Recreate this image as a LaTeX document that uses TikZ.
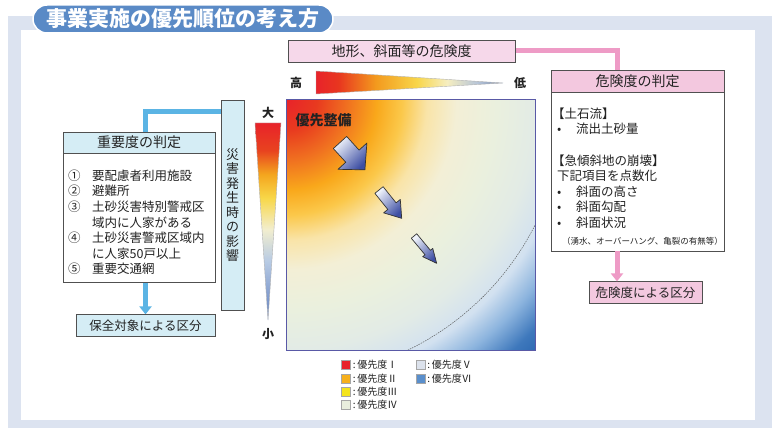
\documentclass[tikz,border=0pt]{standalone}
\usepackage{fontspec}
\setmainfont{Noto Sans CJK JP}
\usetikzlibrary{positioning, arrows.meta, calc, backgrounds}
\definecolor{panelBlue}{HTML}{DCE3F0}
\definecolor{titleBlue}{HTML}{5A8AC6}
\definecolor{borderDark}{HTML}{505050}
\definecolor{textMain}{HTML}{222222}
\definecolor{hazardFill}{HTML}{F6D8EA}
\definecolor{pinkHead}{HTML}{F3C8DF}
\definecolor{pinkLine}{HTML}{EE9BC6}
\definecolor{cyanFill}{HTML}{D5EDF5}
\definecolor{blueLine}{HTML}{5BB4E4}
\definecolor{arrowLight}{HTML}{EEF2FA}
\definecolor{arrowDark}{HTML}{3E4FA3}
\definecolor{legI}{HTML}{E8232A}
\definecolor{legII}{HTML}{F6B01C}
\definecolor{legIII}{HTML}{F4E41C}
\definecolor{legIV}{HTML}{E9EEDD}
\definecolor{legV}{HTML}{DCE2EC}
\definecolor{legVI}{HTML}{5A8FCC}
% radial bands of the priority field
\pgfdeclareradialshading{priority}{\pgfpointorigin}{
  color(0bp)=(legI); color(2.08bp)=(rgb,255:red,232;green,58;blue,31);
  color(4.17bp)=(rgb,255:red,240;green,112;blue,32); color(6.25bp)=(rgb,255:red,249;green,168;blue,27);
  color(7.99bp)=(rgb,255:red,251;green,200;blue,74); color(9.72bp)=(rgb,255:red,249;green,228;blue,168);
  color(11.8bp)=(rgb,255:red,243;green,239;blue,214); color(14.58bp)=(rgb,255:red,234;green,240;blue,222);
  color(17.36bp)=(rgb,255:red,226;green,235;blue,230); color(19.6bp)=(rgb,255:red,210;green,225;blue,240);
  color(21.5bp)=(rgb,255:red,140;green,180;blue,222); color(23.4bp)=(rgb,255:red,62;green,120;blue,188);
  color(25bp)=(rgb,255:red,40;green,100;blue,175); color(50bp)=(rgb,255:red,40;green,100;blue,175)}
\pgfdeclarehorizontalshading{highlow}{100bp}{
  color(0bp)=(legI); color(25bp)=(legI); color(31bp)=(rgb,255:red,232;green,54;blue,31);
  color(41bp)=(rgb,255:red,243;green,154;blue,30); color(52bp)=(rgb,255:red,248;green,214;blue,74);
  color(60bp)=(rgb,255:red,246;green,238;blue,192); color(68bp)=(rgb,255:red,184;green,198;blue,216);
  color(75bp)=(rgb,255:red,111;green,134;blue,178); color(100bp)=(rgb,255:red,111;green,134;blue,178)}
\pgfdeclareverticalshading{bigsmall}{100bp}{
  color(0bp)=(rgb,255:red,94;green,126;blue,192); color(25bp)=(rgb,255:red,94;green,126;blue,192);
  color(40bp)=(rgb,255:red,184;green,203;blue,228); color(48bp)=(rgb,255:red,242;green,238;blue,207);
  color(56bp)=(rgb,255:red,248;green,215;blue,72); color(62bp)=(rgb,255:red,244;green,165;blue,30);
  color(68bp)=(rgb,255:red,232;green,67;blue,31); color(75bp)=(legI); color(100bp)=(legI)}
\tikzset{
  titlepill/.style={
    fill=titleBlue, draw=white, line width=1.5pt, rounded corners=14pt,
    minimum width=300pt, minimum height=28pt, inner sep=0pt,
    font=\bfseries\fontsize{21}{24}\selectfont, text=white,
  },
  hazardbox/.style={
    draw=borderDark, fill=hazardFill, line width=0.8pt, minimum height=22pt,
    inner sep=0pt, font=\fontsize{14}{16}\selectfont, text=textMain,
  },
  judgebox/.style={draw=borderDark, fill=white, line width=0.8pt, inner sep=0pt},
  judgehead/.style={
    draw=borderDark, line width=0.8pt, inner sep=0pt, minimum height=22pt,
    font=\fontsize{14}{16}\selectfont, text=textMain,
  },
  classbox/.style={
    draw=borderDark, line width=0.8pt, inner sep=0pt, minimum height=22pt,
    font=\fontsize{12.5}{14}\selectfont, text=textMain,
  },
  impactbox/.style={
    draw=borderDark, fill=cyanFill, line width=0.8pt, inner sep=0pt,
    minimum width=23pt, minimum height=210pt, align=center,
    font=\fontsize{13}{14.5}\selectfont, text=textMain,
  },
  bodytext/.style={
    anchor=north west, inner sep=0pt, align=left,
    font=\fontsize{12.5}{15.6}\selectfont, text=textMain,
  },
  scalelabel/.style={font=\bfseries\fontsize{12}{14}\selectfont, text=textMain, inner sep=0pt},
  legendsq/.style={draw=gray!70, line width=0.4pt, minimum size=9pt, inner sep=0pt},
  legendtext/.style={inner sep=0pt, font=\fontsize{10}{12}\selectfont, text=textMain},
  fieldborder/.style={draw=gray!70!blue, line width=0.8pt},
  arcline/.style={draw=black!70, line width=0.4pt, dash pattern=on 1.5pt off 1pt},
  pinkline/.style={line width=5pt, draw=pinkLine},
  pinkarrow/.style={pinkline, -{Triangle[length=8pt, width=12pt]}},
  bluearrow/.style={line width=5pt, draw=blueLine, -{Triangle[length=8pt, width=12pt]}},
  flowarrow/.style={
    draw=black!80, line width=0.7pt, line join=round,
    top color=arrowLight, bottom color=arrowDark, shading angle=45,
  },
}

\begin{document}
\begin{tikzpicture}[x=1pt, y=-1pt]
  \useasboundingbox (0,0) rectangle (772,428);

  % === Panel ===
  \begin{pgfonlayer}{background}
    \fill[panelBlue] (8,16) rectangle (772,428);
    \fill[white] (21,30) rectangle (755,420);
  \end{pgfonlayer}
  \node[titlepill] (title) at (183,19) {事業実施の優先順位の考え方};

  % === Hazard side ===
  \node[hazardbox, minimum width=227pt] (hazard) at (401.5,51) {地形、斜面等の危険度};
  \node[judgebox, minimum width=173pt, minimum height=181pt] (riskjudge) at (637.5,160.5) {};
  \node[judgehead, fill=pinkHead, minimum width=173pt, anchor=north] (riskhead) at (riskjudge.north) {危険度の判定};
  \node[bodytext] (risktext) at (557,107.5) {\hspace*{-5pt}【土石流】\\
    \makebox[19pt][l]{•}流出土砂量\\[15.6pt]
    \hspace*{-5pt}【急傾斜地の崩壊】\\
    下記項目を点数化\\
    \makebox[19pt][l]{•}斜面の高さ\\
    \makebox[19pt][l]{•}斜面勾配\\
    \makebox[19pt][l]{•}斜面状況\\[1pt]
    \hspace*{5pt}{\fontsize{8.5}{10}\selectfont （湧水、オーバーハング、亀裂の有無等）}};
  \node[classbox, fill=pinkHead, minimum width=113pt, below=30pt of riskjudge, xshift=8pt] (riskclass) {危険度による区分};
  \coordinate (riskaxis) at ([xshift=-20.5pt]riskjudge.south);
  \draw[pinkarrow] (riskaxis) -- (riskaxis |- riskclass.north);

  % === Impact side ===
  \node[impactbox] (impact) at (232.5,205) {災\\害\\発\\生\\時\\の\\影\\響};
  \node[judgebox, minimum width=152pt, minimum height=150pt] (importance) at (139,207) {};
  \node[judgehead, fill=cyanFill, minimum width=152pt, minimum height=21pt, anchor=north] (imphead) at (importance.north) {重要度の判定};
  \node[bodytext] (imptext) at (68,169.5) {\makebox[24pt][l]{①}要配慮者利用施設\\
    \makebox[24pt][l]{②}避難所\\
    \makebox[24pt][l]{③}土砂災害特別警戒区\\
    \hspace*{24pt}域内に人家がある\\
    \makebox[24pt][l]{④}土砂災害警戒区域内\\
    \hspace*{24pt}に人家50戸以上\\
    \makebox[24pt][l]{⑤}重要交通網};
  \node[classbox, fill=cyanFill, minimum width=139pt, below=32pt of importance, xshift=6.5pt] (protect) {保全対象による区分};

  % === Connectors behind the boxes ===
  \begin{pgfonlayer}{background}
    \draw[pinkline] (hazard.east) -| (riskaxis |- riskjudge.north);
    \draw[bluearrow] ([yshift=-12pt]impact.north west) -| (protect.north);
  \end{pgfonlayer}

  % === Scales ===
  \shade[shading=highlow, draw=gray!60, line width=0.4pt] (316,71) -- (503,83) -- (316,94) -- cycle;
  \shade[shading=bigsmall, draw=gray!60, line width=0.4pt] (255,123) -- (281,123) -- (268,320) -- cycle;
  \node[scalelabel] (high) at (296,83) {高};
  \node[scalelabel] (low) at (520,83) {低};
  \node[scalelabel] (big) at (268,113) {大};
  \node[scalelabel] (small) at (268,334) {小};

  % === Priority field ===
  \node[minimum width=248pt, minimum height=250pt, inner sep=0pt] (field) at (411,225) {};
  \begin{scope}
    \clip (field.north west) rectangle (field.south east);
    \shade[shading=priority] (field.north west) circle[radius=360pt];
    \draw[arcline] (field.north west) circle[radius=278pt];
  \end{scope}
  \draw[fieldborder] (field.north west) rectangle (field.south east);
  \node[font=\bfseries\fontsize{14}{16}\selectfont, text=textMain] (first) at (323.5,120) {優先整備};
  \foreach \tx/\ty/\ang/\len/\sw/\hw/\hl in {340/142.5/-47.7/37/9/19.5/18.5, 379/190/-51.3/36.3/5.3/10.7/15.6, 414/236/-50.3/35.5/3.5/6.5/14}
    \draw[flowarrow, shift={(\tx,\ty)}, rotate=\ang] (0,-\sw) -- ({\len-\hl},-\sw) -- ({\len-\hl},-\hw) -- (\len,0)
      -- ({\len-\hl},\hw) -- ({\len-\hl},\sw) -- (0,\sw) -- cycle;

  % === Legend ===
  \foreach \lx/\ly/\sqcolor/\num [count=\k] in {346/365/legI/Ⅰ, 346/378.3/legII/Ⅱ, 346/391.7/legIII/Ⅲ, 346/405/legIV/Ⅳ, 420.5/365/legV/Ⅴ, 420.5/378.3/legVI/Ⅵ} {
    \node[legendsq, fill=\sqcolor] (legend\k) at (\lx,\ly) {};
    \node[legendtext, right=2pt of legend\k] {:\,優先度\num};
  }
\end{tikzpicture}
\end{document}
